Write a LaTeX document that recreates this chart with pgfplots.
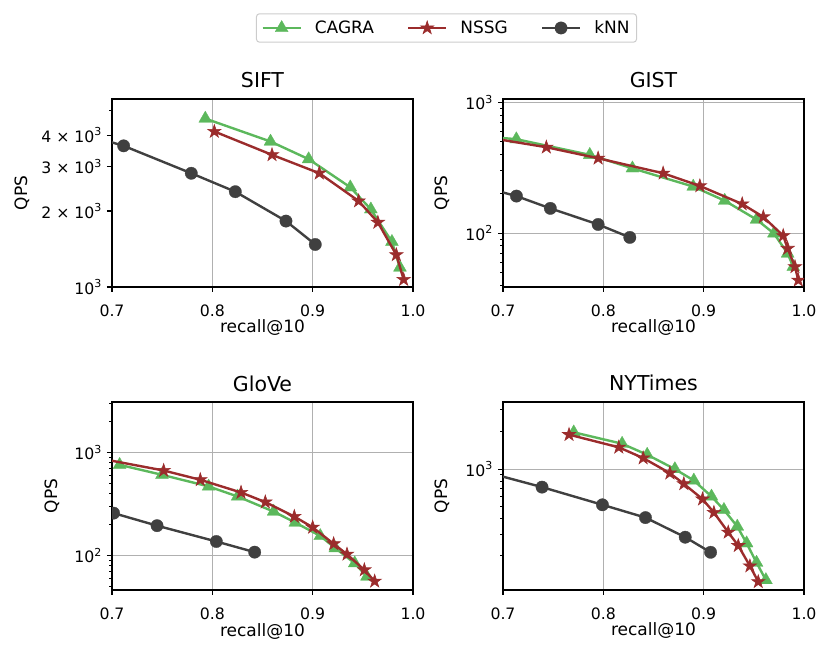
\documentclass[border=0pt]{standalone}
\usepackage{fontspec}
\setmainfont{DejaVu Sans}
\usepackage{pgfplots}
\pgfplotsset{compat=1.18}
\definecolor{cgreen}{HTML}{5CB85C}
\definecolor{cred}{HTML}{9B2C2C}
\definecolor{cgray}{HTML}{404040}
\definecolor{gridgray}{HTML}{B0B0B0}
\definecolor{leggray}{HTML}{CCCCCC}
\newcommand\sups[1]{\raisebox{0.42em}{\fontsize{11}{11}\selectfont #1}}
\newcommand\tk{\fontsize{15.7}{18}\selectfont}
\newcommand\lab{\fontsize{17}{20}\selectfont}
\newcommand\ttl{\fontsize{20.5}{24}\selectfont}
\pgfdeclareplotmark{fstar}{%
  \pgfpathmoveto{\pgfpointpolar{90}{\pgfplotmarksize}}%
  \pgfpathlineto{\pgfpointpolar{126}{0.382\pgfplotmarksize}}%
  \pgfpathlineto{\pgfpointpolar{162}{\pgfplotmarksize}}%
  \pgfpathlineto{\pgfpointpolar{198}{0.382\pgfplotmarksize}}%
  \pgfpathlineto{\pgfpointpolar{234}{\pgfplotmarksize}}%
  \pgfpathlineto{\pgfpointpolar{270}{0.382\pgfplotmarksize}}%
  \pgfpathlineto{\pgfpointpolar{306}{\pgfplotmarksize}}%
  \pgfpathlineto{\pgfpointpolar{342}{0.382\pgfplotmarksize}}%
  \pgfpathlineto{\pgfpointpolar{18}{\pgfplotmarksize}}%
  \pgfpathlineto{\pgfpointpolar{54}{0.382\pgfplotmarksize}}%
  \pgfpathclose
  \pgfusepathqfillstroke}
\pgfplotsset{legend image code/.code={\draw[mark repeat=2,mark phase=2,#1] plot coordinates {(0pt,0pt) (19pt,0pt) (38pt,0pt)};}}
\pgfplotsset{
  /pgfplots/myaxis/.style={
    scale only axis, width=301pt, height=188pt, anchor=south west,
    xmin=0.7, xmax=1.0,
    xtick={0.7,0.8,0.9,1.0}, xticklabels={0.7,0.8,0.9,1.0},
    grid=major, major grid style={color=gridgray, line width=1.1pt},
    axis line style={line width=1.2pt},
    tick style={line width=1.1pt, color=black},
    major tick length=5pt, minor tick length=3pt, tick align=outside,
    xtick pos=bottom, ytick pos=left,
    clip marker paths=true,
    ticklabel style={font=\tk},
    xticklabel style={anchor=base, yshift=-25pt},
    yticklabel style={anchor=east, xshift=-2pt},
    label style={font=\lab},
    title style={font=\ttl, at={(0.5,1)}, anchor=base, yshift=5pt},
    xlabel={recall@10}, ylabel={QPS},
    xlabel style={at={(axis description cs:0.5,0)}, anchor=base, yshift=-46pt},
  },
  /pgfplots/mycagra/.style={color=cgreen, line width=2.4pt, line join=round, mark=triangle*, mark size=7.5pt, mark options={solid, fill=cgreen, draw=cgreen, line width=0.3pt}},
  /pgfplots/mynssg/.style={color=cred, line width=2.4pt, line join=round, mark=fstar, mark size=7pt, mark options={solid, fill=cred, draw=cred, line width=0.6pt, line join=miter}},
  /pgfplots/myknn/.style={color=cgray, line width=2.4pt, line join=round, mark=*, mark size=6.2pt, mark options={solid, fill=cgray, draw=cgray, line width=0.3pt}},
}
\begin{document}
\begin{tikzpicture}
\useasboundingbox (0,0) rectangle (831pt,657pt);
% SIFT
\begin{semilogyaxis}[myaxis, at={(112pt,370pt)}, title={SIFT},
  ymin=1000, ymax=5560,
  ytick={1000,2000,3000,4000},
  yticklabels={10\sups{3},2 × 10\sups{3},3 × 10\sups{3},4 × 10\sups{3}},
  ymajorgrids=false,
  minor ytick={5000},
  ylabel style={at={(axis description cs:-0.299,0.5)}, anchor=center},
  legend style={at={(1.1113,1.3777)}, anchor=center, legend columns=3,
    draw=leggray, line width=1pt, rounded corners=3pt, font=\lab,
    inner xsep=5pt, inner ysep=5pt,
    cells={anchor=west},
    /tikz/every odd column/.append style={column sep=11pt},
    /tikz/every even column/.append style={column sep=31pt}},
]
\addplot[mycagra] coordinates {(0.793,4650) (0.858,3772) (0.896,3211) (0.9375,2484) (0.958,2031) (0.979,1510) (0.987,1194)};
\addplot[mynssg] coordinates {(0.802,4133) (0.8595,3340) (0.9066,2825) (0.9458,2192) (0.965,1803) (0.9834,1341) (0.9907,1070)};
\addplot[myknn] coordinates {(0.68,3950) (0.7116,3626) (0.779,2823) (0.8229,2386) (0.8734,1825) (0.9026,1474)};
\legend{CAGRA,NSSG,kNN}
\end{semilogyaxis}
% GIST
\begin{semilogyaxis}[myaxis, at={(503pt,370pt)}, title={GIST},
  ymin=38.7, ymax=1062,
  ytick={100,1000}, yticklabels={10\sups{2},10\sups{3}},
  minor ytick={40,50,60,70,80,90,200,300,400,500,600,700,800,900},
  ylabel style={at={(axis description cs:-0.2027,0.5)}, anchor=center},
]
\addplot[mycagra] coordinates {(0.68,550) (0.7133,523) (0.7865,397) (0.829,313) (0.8896,227) (0.921,177) (0.9527,127) (0.970,99.4) (0.9837,69.8) (0.9893,55.2)};
\addplot[mynssg] coordinates {(0.68,546) (0.7432,454) (0.7948,374) (0.8596,287) (0.8962,229.6) (0.9384,167) (0.9594,133) (0.9793,95.5) (0.9837,76.3) (0.991,55.2) (0.9943,43.6)};
\addplot[myknn] coordinates {(0.68,225) (0.7134,192) (0.7472,154.6) (0.7948,116.5) (0.8264,92.7)};
\end{semilogyaxis}
% GloVe
\begin{semilogyaxis}[myaxis, at={(112pt,67pt)}, title={GloVe},
  ymin=46.4, ymax=3082,
  ytick={100,1000}, yticklabels={10\sups{2},10\sups{3}},
  minor ytick={50,60,70,80,90,200,300,400,500,600,700,800,900,2000,3000},
  ylabel style={at={(axis description cs:-0.1993,0.5)}, anchor=center},
]
\addplot[mycagra] coordinates {(0.7076,758) (0.7498,607) (0.7963,468) (0.8252,374) (0.8611,267) (0.8827,209) (0.9076,155) (0.9226,118) (0.9419,84.3) (0.9541,62.6)};
\addplot[mynssg] coordinates {(0.68,903) (0.7515,668) (0.788,543) (0.8286,409) (0.8528,330) (0.8817,239) (0.9,188) (0.9209,130) (0.9342,103) (0.9515,72.6) (0.9618,56.4)};
\addplot[myknn] coordinates {(0.7016,258) (0.7449,195) (0.804,137) (0.8422,108)};
\end{semilogyaxis}
% NYTimes
\begin{semilogyaxis}[myaxis, at={(503pt,67pt)}, title={NYTimes},
  ymin=106.4, ymax=3467,
  ytick={1000}, yticklabels={10\sups{3}},
  minor ytick={200,300,400,500,600,700,800,900,2000,3000},
  ylabel style={at={(axis description cs:-0.2027,0.5)}, anchor=center},
]
\addplot[mycagra] coordinates {(0.7705,1977) (0.8187,1600) (0.8437,1305) (0.8713,1000) (0.8902,810) (0.9078,602) (0.9202,470) (0.9335,345) (0.9428,253) (0.9527,176.6) (0.962,128)};
\addplot[mynssg] coordinates {(0.7658,1893) (0.8154,1497) (0.8397,1227) (0.8663,928) (0.8802,761) (0.8989,573) (0.9102,447) (0.9245,310) (0.9345,242) (0.9461,166) (0.9544,124)};
\addplot[myknn] coordinates {(0.68,960) (0.7389,716) (0.7991,516) (0.842,407) (0.8816,283) (0.9069,214)};
\end{semilogyaxis}
\end{tikzpicture}
\end{document}
